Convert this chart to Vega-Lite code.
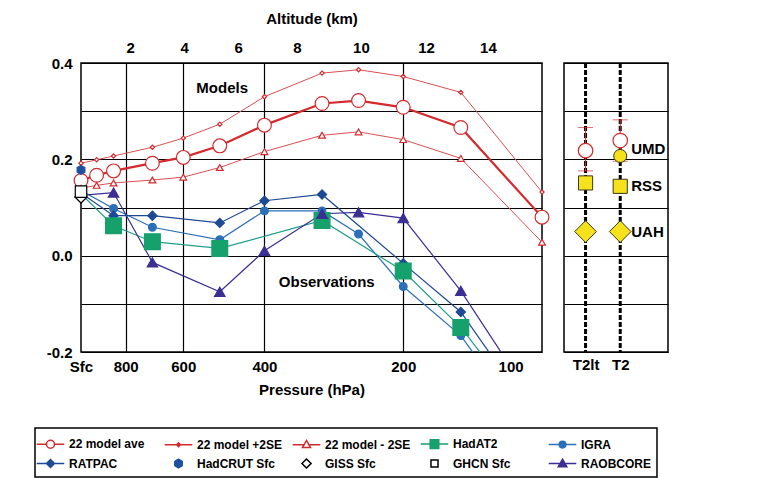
{
  "$schema": "https://vega.github.io/schema/vega-lite/v6.json",
  "background": "white",
  "padding": {"left": 33, "top": 10, "right": 5, "bottom": 5},
  "spacing": 22,
  "bounds": "flush",
  "datasets": {
    "prof": [
      {"series": "22 model ave", "p": 1000, "v": 0.156},
      {"series": "22 model ave", "p": 925, "v": 0.167},
      {"series": "22 model ave", "p": 850, "v": 0.176},
      {"series": "22 model ave", "p": 700, "v": 0.192},
      {"series": "22 model ave", "p": 600, "v": 0.204},
      {"series": "22 model ave", "p": 500, "v": 0.228},
      {"series": "22 model ave", "p": 400, "v": 0.271},
      {"series": "22 model ave", "p": 300, "v": 0.316},
      {"series": "22 model ave", "p": 250, "v": 0.322},
      {"series": "22 model ave", "p": 200, "v": 0.308},
      {"series": "22 model ave", "p": 150, "v": 0.266},
      {"series": "22 model ave", "p": 100, "v": 0.080},
      {"series": "22 model +2SE", "p": 1000, "v": 0.192},
      {"series": "22 model +2SE", "p": 925, "v": 0.199},
      {"series": "22 model +2SE", "p": 850, "v": 0.207},
      {"series": "22 model +2SE", "p": 700, "v": 0.225},
      {"series": "22 model +2SE", "p": 600, "v": 0.244},
      {"series": "22 model +2SE", "p": 500, "v": 0.273},
      {"series": "22 model +2SE", "p": 400, "v": 0.330},
      {"series": "22 model +2SE", "p": 300, "v": 0.379},
      {"series": "22 model +2SE", "p": 250, "v": 0.386},
      {"series": "22 model +2SE", "p": 200, "v": 0.372},
      {"series": "22 model +2SE", "p": 150, "v": 0.339},
      {"series": "22 model +2SE", "p": 100, "v": 0.132},
      {"series": "22 model - 2SE", "p": 1000, "v": 0.140},
      {"series": "22 model - 2SE", "p": 925, "v": 0.146},
      {"series": "22 model - 2SE", "p": 850, "v": 0.151},
      {"series": "22 model - 2SE", "p": 700, "v": 0.157},
      {"series": "22 model - 2SE", "p": 600, "v": 0.163},
      {"series": "22 model - 2SE", "p": 500, "v": 0.183},
      {"series": "22 model - 2SE", "p": 400, "v": 0.216},
      {"series": "22 model - 2SE", "p": 300, "v": 0.250},
      {"series": "22 model - 2SE", "p": 250, "v": 0.257},
      {"series": "22 model - 2SE", "p": 200, "v": 0.241},
      {"series": "22 model - 2SE", "p": 150, "v": 0.202},
      {"series": "22 model - 2SE", "p": 100, "v": 0.028},
      {"series": "IGRA", "p": 1000, "v": 0.135},
      {"series": "IGRA", "p": 850, "v": 0.098},
      {"series": "IGRA", "p": 700, "v": 0.059},
      {"series": "IGRA", "p": 500, "v": 0.033},
      {"series": "IGRA", "p": 400, "v": 0.093},
      {"series": "IGRA", "p": 300, "v": 0.093},
      {"series": "IGRA", "p": 250, "v": 0.045},
      {"series": "IGRA", "p": 200, "v": -0.064},
      {"series": "IGRA", "p": 150, "v": -0.166},
      {"series": "IGRA", "p": 100, "v": -0.400},
      {"series": "RATPAC", "p": 1000, "v": 0.130},
      {"series": "RATPAC", "p": 850, "v": 0.083},
      {"series": "RATPAC", "p": 700, "v": 0.083},
      {"series": "RATPAC", "p": 500, "v": 0.068},
      {"series": "RATPAC", "p": 400, "v": 0.114},
      {"series": "RATPAC", "p": 300, "v": 0.127},
      {"series": "RATPAC", "p": 200, "v": -0.016},
      {"series": "RATPAC", "p": 150, "v": -0.117},
      {"series": "RATPAC", "p": 100, "v": -0.357},
      {"series": "HadAT2", "p": 1000, "v": 0.128},
      {"series": "HadAT2", "p": 850, "v": 0.062},
      {"series": "HadAT2", "p": 700, "v": 0.029},
      {"series": "HadAT2", "p": 500, "v": 0.015},
      {"series": "HadAT2", "p": 300, "v": 0.073},
      {"series": "HadAT2", "p": 200, "v": -0.032},
      {"series": "HadAT2", "p": 150, "v": -0.149},
      {"series": "HadAT2", "p": 100, "v": -0.366},
      {"series": "RAOBCORE", "p": 1000, "v": 0.125},
      {"series": "RAOBCORE", "p": 850, "v": 0.131},
      {"series": "RAOBCORE", "p": 700, "v": -0.014},
      {"series": "RAOBCORE", "p": 500, "v": -0.075},
      {"series": "RAOBCORE", "p": 400, "v": 0.010},
      {"series": "RAOBCORE", "p": 300, "v": 0.087},
      {"series": "RAOBCORE", "p": 250, "v": 0.090},
      {"series": "RAOBCORE", "p": 200, "v": 0.078},
      {"series": "RAOBCORE", "p": 150, "v": -0.073},
      {"series": "RAOBCORE", "p": 100, "v": -0.330},
      {"series": "HadCRUT Sfc", "p": 1000, "v": 0.178},
      {"series": "GISS Sfc", "p": 1000, "v": 0.122},
      {"series": "GHCN Sfc", "p": 1000, "v": 0.133}
    ],
    "legend": [
      {"name": "22 model ave"}, {"name": "22 model +2SE"}, {"name": "22 model - 2SE"}, {"name": "HadAT2"}, {"name": "IGRA"},
      {"name": "RATPAC"}, {"name": "HadCRUT Sfc"}, {"name": "GISS Sfc"}, {"name": "GHCN Sfc"}, {"name": "RAOBCORE"}
    ],
    "notes": [
      {"txt": "Models", "p": 494, "v": 0.349},
      {"txt": "Observations", "p": 293, "v": -0.055}
    ],
    "sat": [
      {"ch": "T2lt", "v": 0.218, "lo": 0.176, "hi": 0.266},
      {"ch": "T2", "v": 0.239, "lo": 0.196, "hi": 0.282}
    ],
    "satobs": [
      {"ch": "T2", "src": "UMD", "v": 0.207},
      {"ch": "T2lt", "src": "RSS", "v": 0.151},
      {"ch": "T2", "src": "RSS", "v": 0.144},
      {"ch": "T2lt", "src": "UAH", "v": 0.050},
      {"ch": "T2", "src": "UAH", "v": 0.050}
    ],
    "satlab": [
      {"ch": "T2", "label": "UMD", "v": 0.221},
      {"ch": "T2", "label": "RSS", "v": 0.145},
      {"ch": "T2", "label": "UAH", "v": 0.049}
    ],
    "chans": [{"ch": "T2lt"}, {"ch": "T2"}]
  },
  "hconcat": [
    {
      "width": 461,
      "height": 289,
      "layer": [
        {
          "data": {"name": "prof"},
          "mark": {"type": "line", "clip": true},
          "encoding": {
            "x": {
              "field": "p", "type": "quantitative",
              "scale": {"type": "log", "domain": [100, 1000], "reverse": true, "nice": false},
              "axis": {
                "orient": "bottom",
                "values": [1000, 800, 600, 400, 200, 117],
                "labelExpr": "datum.value == 1000 ? 'Sfc' : datum.value == 117 ? '100' : format(datum.value, 'd')",
                "grid": true,
                "gridOpacity": {"condition": {"test": "datum.value == 1000 || datum.value == 117", "value": 0}, "value": 1},
                "ticks": false, "domain": false,
                "labelPadding": 7, "labelFlush": false, "labelOverlap": false,
                "title": "Pressure (hPa)", "titlePadding": 8
              }
            },
            "y": {
              "field": "v", "type": "quantitative",
              "scale": {"domain": [-0.2, 0.4], "nice": false, "zero": false},
              "axis": {
                "values": [-0.2, -0.1, 0, 0.1, 0.2, 0.3, 0.4],
                "labelExpr": "datum.value == 0.4 ? '0.4' : datum.value == 0.2 ? '0.2' : datum.value == 0 ? '0.0' : datum.value == -0.2 ? '-0.2' : ''",
                "grid": true, "ticks": false, "domain": false,
                "labelPadding": 9, "title": null
              }
            },
            "detail": {"field": "series"},
            "stroke": {
              "field": "series", "type": "nominal", "legend": null,
              "scale": {
                "domain": ["22 model ave", "22 model +2SE", "22 model - 2SE", "HadAT2", "IGRA", "RATPAC", "HadCRUT Sfc", "GISS Sfc", "GHCN Sfc", "RAOBCORE"],
                "range": ["#d42a2e", "#dc4f52", "#dc4f52", "#1f9e8c", "#2b6fb8", "#1d4a94", "#1d4a94", "#000000", "#000000", "#3a2f93"]
              }
            },
            "strokeWidth": {
              "field": "series", "type": "nominal", "legend": null,
              "scale": {
                "type": "ordinal",
                "domain": ["22 model ave", "22 model +2SE", "22 model - 2SE", "HadAT2", "IGRA", "RATPAC", "HadCRUT Sfc", "GISS Sfc", "GHCN Sfc", "RAOBCORE"],
                "range": [2.2, 1, 1, 1.2, 1.2, 1.2, 1, 1, 1, 1.2]
              }
            }
          }
        },
        {
          "data": {"name": "prof"},
          "transform": [
            {"filter": "!(datum.p == 1000 && indexof(['IGRA', 'RATPAC', 'HadAT2', 'RAOBCORE'], datum.series) >= 0)"},
            {"filter": "datum.v >= -0.2"}
          ],
          "mark": {"type": "point", "clip": false, "strokeWidth": 1.2, "opacity": 1},
          "encoding": {
            "x": {
              "field": "p", "type": "quantitative",
              "axis": {
                "orient": "top",
                "values": [782, 597, 456, 340, 247, 178.5, 131],
                "labelExpr": "datum.value == 782 ? '2' : datum.value == 597 ? '4' : datum.value == 456 ? '6' : datum.value == 340 ? '8' : datum.value == 247 ? '10' : datum.value == 178.5 ? '12' : '14'",
                "grid": false, "ticks": false, "domain": false,
                "labelPadding": 8, "labelFlush": false, "labelOverlap": false,
                "title": "Altitude (km)", "titlePadding": 14
              }
            },
            "y": {"field": "v", "type": "quantitative"},
            "shape": {
              "field": "series", "type": "nominal", "legend": null,
              "scale": {
                "domain": ["22 model ave", "22 model +2SE", "22 model - 2SE", "HadAT2", "IGRA", "RATPAC", "HadCRUT Sfc", "GISS Sfc", "GHCN Sfc", "RAOBCORE"],
                "range": ["circle", "diamond", "triangle-up", "square", "circle", "diamond", "M0,-1L0.866,-0.5L0.866,0.5L0,1L-0.866,0.5L-0.866,-0.5Z", "diamond", "square", "triangle-up"]
              }
            },
            "size": {
              "field": "series", "type": "nominal", "legend": null,
              "scale": {
                "type": "ordinal",
                "domain": ["22 model ave", "22 model +2SE", "22 model - 2SE", "HadAT2", "IGRA", "RATPAC", "HadCRUT Sfc", "GISS Sfc", "GHCN Sfc", "RAOBCORE"],
                "range": [190, 18, 45, 250, 60, 85, 80, 150, 130, 110]
              }
            },
            "fill": {
              "field": "series", "type": "nominal", "legend": null,
              "scale": {
                "domain": ["22 model ave", "22 model +2SE", "22 model - 2SE", "HadAT2", "IGRA", "RATPAC", "HadCRUT Sfc", "GISS Sfc", "GHCN Sfc", "RAOBCORE"],
                "range": ["#ffffff", "#ffffff", "#ffffff", "#16a06c", "#2b6fb8", "#1d4a94", "#1f4f9f", "#ffffff", "#ffffff", "#3a2f93"]
              }
            },
            "stroke": {
              "field": "series", "type": "nominal", "legend": null,
              "scale": {
                "domain": ["22 model ave", "22 model +2SE", "22 model - 2SE", "HadAT2", "IGRA", "RATPAC", "HadCRUT Sfc", "GISS Sfc", "GHCN Sfc", "RAOBCORE"],
                "range": ["#d42a2e", "#d42a2e", "#d42a2e", "#16a06c", "#2b6fb8", "#1d4a94", "#1f4f9f", "#000000", "#000000", "#3a2f93"]
              }
            }
          }
        },
        {
          "data": {"name": "notes"},
          "mark": {"type": "text", "fontSize": 15, "fontWeight": "bold", "font": "Liberation Sans", "color": "black"},
          "encoding": {
            "x": {"field": "p", "type": "quantitative", "axis": null},
            "y": {"field": "v", "type": "quantitative"},
            "text": {"field": "txt"}
          }
        },
        {
          "data": {"name": "legend"},
          "mark": {"type": "point", "opacity": 0, "size": 361},
          "encoding": {
            "shape": {
              "field": "name", "type": "nominal",
              "scale": {
                "domain": ["22 model ave", "22 model +2SE", "22 model - 2SE", "HadAT2", "IGRA", "RATPAC", "HadCRUT Sfc", "GISS Sfc", "GHCN Sfc", "RAOBCORE"],
                "range": [
                  "M-1.45,0H-0.42M0.42,0H1.45M-0.42,0A0.42,0.42 0 1,0 0.42,0A0.42,0.42 0 1,0 -0.42,0Z",
                  "M-1.45,0H1.45M-0.2,0L0,-0.2L0.2,0L0,0.2Z",
                  "M-1.45,0H-0.25M0.25,0H1.45M0,-0.45L0.42,0.3L-0.42,0.3Z",
                  "M-1.45,0H1.45M-0.45,-0.45H0.45V0.45H-0.45Z",
                  "M-1.45,0H1.45M-0.35,0A0.35,0.35 0 1,0 0.35,0A0.35,0.35 0 1,0 -0.35,0Z",
                  "M-1.45,0H1.45M-0.42,0L0,-0.42L0.42,0L0,0.42Z",
                  "M0,-0.45L0.39,-0.225L0.39,0.225L0,0.45L-0.39,0.225L-0.39,-0.225Z",
                  "M-0.48,0L0,-0.48L0.48,0L0,0.48Z",
                  "M-0.37,-0.37H0.37V0.37H-0.37Z",
                  "M-1.45,0H1.45M0,-0.45L0.45,0.33L-0.45,0.33Z"
                ]
              },
              "legend": {"orient": "none", "direction": "horizontal", "legendX": -46, "legendY": 365, "title": null, "columns": 5, "symbolSize": 361}
            },
            "fill": {
              "field": "name", "type": "nominal",
              "scale": {
                "domain": ["22 model ave", "22 model +2SE", "22 model - 2SE", "HadAT2", "IGRA", "RATPAC", "HadCRUT Sfc", "GISS Sfc", "GHCN Sfc", "RAOBCORE"],
                "range": ["#ffffff", "#ffffff", "#ffffff", "#16a06c", "#2b6fb8", "#1d4a94", "#1f4f9f", "#ffffff", "#ffffff", "#3a2f93"]
              },
              "legend": {"orient": "none", "direction": "horizontal", "legendX": -46, "legendY": 365, "title": null, "columns": 5, "symbolSize": 361}
            },
            "stroke": {
              "field": "name", "type": "nominal",
              "scale": {
                "domain": ["22 model ave", "22 model +2SE", "22 model - 2SE", "HadAT2", "IGRA", "RATPAC", "HadCRUT Sfc", "GISS Sfc", "GHCN Sfc", "RAOBCORE"],
                "range": ["#d42a2e", "#d42a2e", "#d42a2e", "#16a06c", "#2b6fb8", "#1d4a94", "#1f4f9f", "#000000", "#000000", "#3a2f93"]
              },
              "legend": {"orient": "none", "direction": "horizontal", "legendX": -46, "legendY": 365, "title": null, "columns": 5, "symbolSize": 361}
            }
          }
        }
      ],
      "resolve": {
        "scale": {"stroke": "independent", "fill": "independent", "shape": "independent", "size": "independent", "strokeWidth": "independent"},
        "axis": {"x": "independent"}
      }
    },
    {
      "width": 104,
      "height": 289,
      "layer": [
        {
          "data": {"name": "chans"},
          "mark": {"type": "rule", "color": "black", "strokeWidth": 3, "strokeDash": [5, 2]},
          "encoding": {
            "x": {
              "field": "ch", "type": "nominal",
              "scale": {"type": "point", "domain": ["T2lt", "T2"], "padding": 1.125, "align": 0.311},
              "axis": {"title": null, "ticks": false, "domain": false, "labelAngle": 0, "labelPadding": 5, "grid": false}
            }
          }
        },
        {
          "data": {"name": "sat"},
          "mark": {"type": "rule", "color": "#d42a2e", "strokeWidth": 1},
          "encoding": {
            "x": {"field": "ch", "type": "nominal"},
            "y": {
              "field": "lo", "type": "quantitative",
              "scale": {"domain": [-0.2, 0.4], "nice": false, "zero": false},
              "axis": {"values": [-0.2, -0.1, 0, 0.1, 0.2, 0.3, 0.4], "labels": false, "grid": true, "ticks": false, "domain": false, "title": null}
            },
            "y2": {"field": "hi"}
          }
        },
        {
          "data": {"name": "sat"},
          "mark": {"type": "tick", "color": "#d42a2e", "thickness": 1, "size": 15, "orient": "horizontal"},
          "encoding": {"x": {"field": "ch", "type": "nominal"}, "y": {"field": "lo", "type": "quantitative"}}
        },
        {
          "data": {"name": "sat"},
          "mark": {"type": "tick", "color": "#d42a2e", "thickness": 1, "size": 15, "orient": "horizontal"},
          "encoding": {"x": {"field": "ch", "type": "nominal"}, "y": {"field": "hi", "type": "quantitative"}}
        },
        {
          "data": {"name": "sat"},
          "mark": {"type": "point", "shape": "circle", "size": 210, "fill": "white", "stroke": "#d42a2e", "strokeWidth": 1.2, "opacity": 1},
          "encoding": {"x": {"field": "ch", "type": "nominal"}, "y": {"field": "v", "type": "quantitative"}}
        },
        {
          "data": {"name": "satobs"},
          "mark": {"type": "point", "fill": "#f6e21c", "stroke": "#3a3a1a", "strokeWidth": 1, "opacity": 1},
          "encoding": {
            "x": {"field": "ch", "type": "nominal"},
            "y": {"field": "v", "type": "quantitative"},
            "shape": {"field": "src", "type": "nominal", "legend": null, "scale": {"domain": ["UMD", "RSS", "UAH"], "range": ["circle", "square", "diamond"]}},
            "size": {"field": "src", "type": "nominal", "legend": null, "scale": {"type": "ordinal", "domain": ["UMD", "RSS", "UAH"], "range": [170, 200, 470]}}
          }
        },
        {
          "data": {"name": "satlab"},
          "mark": {"type": "text", "align": "left", "dx": 11, "fontSize": 15, "fontWeight": "bold", "font": "Liberation Sans", "color": "black"},
          "encoding": {
            "x": {"field": "ch", "type": "nominal"},
            "y": {"field": "v", "type": "quantitative"},
            "text": {"field": "label"}
          }
        }
      ]
    }
  ],
  "config": {
    "view": {"stroke": "black", "strokeWidth": 1.5},
    "axis": {
      "gridColor": "black", "gridWidth": 1.2, "gridOpacity": 1,
      "labelFont": "Liberation Sans", "labelFontWeight": "bold", "labelFontSize": 15, "labelColor": "black",
      "titleFont": "Liberation Sans", "titleFontWeight": "bold", "titleFontSize": 15, "titleColor": "black"
    },
    "legend": {
      "strokeColor": "black", "strokeWidth": 1.5, "padding": 5, "fillColor": "white",
      "labelFont": "Liberation Sans", "labelFontWeight": "bold", "labelFontSize": 12, "labelColor": "black",
      "labelOffset": 8, "gridAlign": "all", "columnPadding": 6, "rowPadding": 1,
      "symbolStrokeWidth": 1.5, "symbolOpacity": 1
    }
  }
}
